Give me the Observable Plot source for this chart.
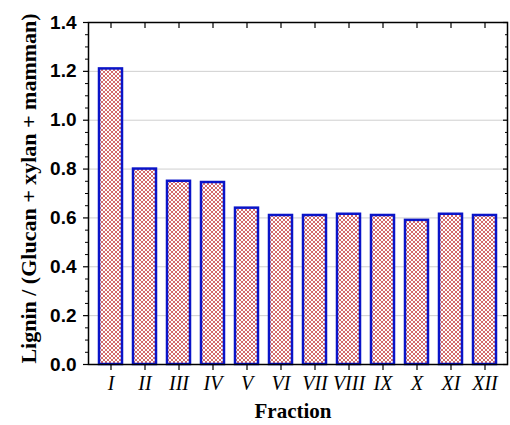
<!DOCTYPE html>
<html>
<head>
<meta charset="utf-8">
<script src="https://cdn.jsdelivr.net/npm/d3@7"></script>
<script src="https://cdn.jsdelivr.net/npm/@observablehq/plot@0.6"></script>
<style>
  body { margin: 0; background: #fff; overflow: hidden; }
  #chart { width: 510px; height: 425px; }
</style>
</head>
<body>
<div id="chart"></div>
<script>
const fractions = ["I", "II", "III", "IV", "V", "VI", "VII", "VIII", "IX", "X", "XI", "XII"];
const ratios = [1.21, 0.80, 0.75, 0.745, 0.64, 0.61, 0.61, 0.615, 0.61, 0.59, 0.615, 0.61];
const majorTicks = [0, 0.2, 0.4, 0.6, 0.8, 1.0, 1.2, 1.4];
const minorTicks = [0.05, 0.1, 0.15, 0.25, 0.3, 0.35, 0.45, 0.5, 0.55, 0.65, 0.7, 0.75, 0.85, 0.9, 0.95, 1.05, 1.1, 1.15, 1.25, 1.3, 1.35];
const yLabel = "Lignin / (Glucan + xylan + mamman)";
const xLabel = "Fraction";

const data = fractions.map((f, i) => ({fraction: f, ratio: ratios[i]}));

const sans = "'Liberation Sans', Arial, sans-serif";
const serif = "'Liberation Serif', 'Times New Roman', serif";

const svg = Plot.plot({
  width: 510,
  height: 425,
  marginLeft: 88,
  marginRight: 3,
  marginTop: 22,
  marginBottom: 61,
  style: {background: "#fff", color: "#000", overflow: "visible"},
  x: {domain: fractions, paddingInner: 0.33, paddingOuter: 0.17, align: 0.5},
  y: {domain: [0, 1.4]},
  marks: [
    Plot.gridY(majorTicks.filter(d => d > 0 && d < 1.4), {stroke: "#cfcfcf", strokeOpacity: 1, strokeWidth: 1}),
    Plot.barY(data, {x: "fraction", y: "ratio", fill: "url(#xhatch)", stroke: "#0a14c8", strokeWidth: 2.5}),
    Plot.axisY(majorTicks, {anchor: "left", tickSize: 5, tickPadding: 7, tickFormat: d3.format(".1f"),
      fontSize: 19, fontWeight: "bold", fontFamily: sans, label: null, strokeWidth: 1.2}),
    Plot.axisY(minorTicks, {anchor: "left", tickSize: 3, tickFormat: () => "", label: null, strokeWidth: 1}),
    Plot.axisY(majorTicks, {anchor: "right", tickSize: 5, dx: -5, tickFormat: () => "", label: null, strokeWidth: 1.2}),
    Plot.axisY(minorTicks, {anchor: "right", tickSize: 3, dx: -3, tickFormat: () => "", label: null, strokeWidth: 1}),
    Plot.axisX({anchor: "bottom", tickSize: 6, tickPadding: 5, fontSize: 20, fontStyle: "italic",
      fontFamily: serif, label: null, strokeWidth: 1.2}),
    Plot.axisX({anchor: "top", tickSize: 5, dy: 5, tickFormat: () => "", label: null, strokeWidth: 1.2}),
    Plot.frame({stroke: "#000", strokeWidth: 1.5}),
    Plot.text([yLabel], {frameAnchor: "left", textAnchor: "middle", rotate: -90, dx: -60, dy: -5, fontSize: 22,
      fontWeight: "bold", fontFamily: serif, fill: "#000"}),
    Plot.text([xLabel], {frameAnchor: "bottom", lineAnchor: "middle", dx: -5, dy: 47, fontSize: 21, fontWeight: "bold",
      fontFamily: serif, fill: "#000"})
  ]
});

svg.insertAdjacentHTML("afterbegin",
  '<defs><pattern id="xhatch" patternUnits="userSpaceOnUse" width="4" height="4">' +
  '<rect width="4" height="4" fill="#ffffff"/>' +
  '<path d="M-1,-1 L5,5 M-1,5 L5,-1 M-1,3 L1,5 M3,-1 L5,1 M-1,1 L1,-1 M3,5 L5,3" stroke="#c43a3c" stroke-width="0.75" fill="none"/>' +
  '</pattern></defs>');

document.getElementById("chart").appendChild(svg);
</script>
</body>
</html>
